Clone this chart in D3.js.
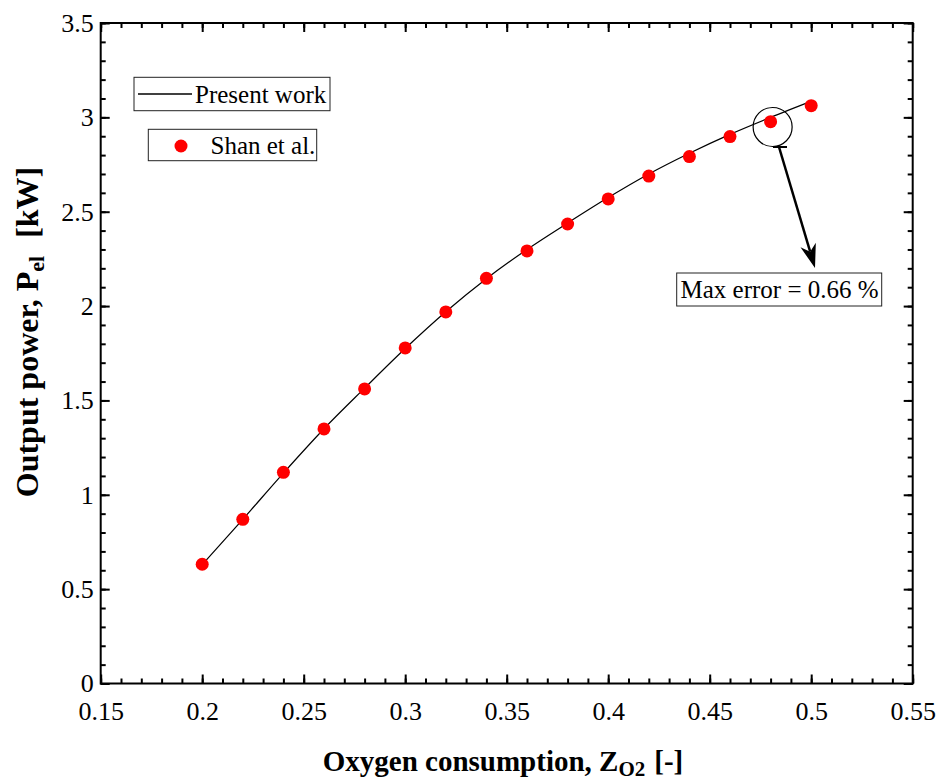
<!DOCTYPE html>
<html>
<head>
<meta charset="utf-8">
<script src="https://cdn.jsdelivr.net/npm/d3@7"></script>
<style>
  body { margin: 0; background: #fff; }
</style>
</head>
<body>
<svg width="938" height="780"></svg>
<script>
  // 데이터
  const zO2 = [0.20, 0.22, 0.24, 0.26, 0.28, 0.30, 0.32, 0.34, 0.36, 0.38, 0.40, 0.42, 0.44, 0.46, 0.48, 0.50];
  const presentWork = [0.63, 0.87, 1.115, 1.35, 1.565, 1.775, 1.97, 2.145, 2.30, 2.44, 2.575, 2.70, 2.81, 2.91, 3.00, 3.085];
  const shanEtAl = [0.632, 0.870, 1.119, 1.349, 1.561, 1.778, 1.969, 2.147, 2.292, 2.435, 2.568, 2.689, 2.792, 2.898, 2.977, 3.062];
  const xTicks = [0.15, 0.2, 0.25, 0.3, 0.35, 0.4, 0.45, 0.5, 0.55];
  const yTicks = [0, 0.5, 1, 1.5, 2, 2.5, 3, 3.5];

  const FONT = '"Liberation Serif", "Times New Roman", Times, serif';
  const svg = d3.select("svg").style("font-family", FONT);
  const pLeft = 100.7, pRight = 912.7, pTop = 23, pBottom = 683.5;

  const x = d3.scaleLinear().domain([0.15, 0.55]).range([pLeft, pRight]);
  const y = d3.scaleLinear().domain([0, 3.5]).range([pBottom, pTop]);

  const xMinor = d3.range(15, 56).map(d => d / 100);
  const yMinor = d3.range(0, 36).map(d => d / 10);

  // 축 그리기 (안쪽 눈금)
  function styleAxis(g, labels) {
    g.attr("font-family", null).attr("font-size", null);
    g.select(".domain").remove();
    g.selectAll("line").attr("stroke", "#000").attr("stroke-width", 2);
    if (labels) {
      g.selectAll("text").attr("fill", "#000")
        .style("font-family", FONT).style("font-size", "26px");
    } else {
      g.selectAll("text").remove();
    }
  }
  const fmt = d => String(d);

  svg.append("g").attr("transform", `translate(0,${pBottom})`)
    .call(d3.axisBottom(x).tickValues(xMinor).tickSize(-5).tickFormat(""))
    .call(g => styleAxis(g, false));
  svg.append("g").attr("transform", `translate(0,${pBottom})`)
    .call(d3.axisBottom(x).tickValues(xTicks).tickSize(-9).tickPadding(18).tickFormat(fmt))
    .call(g => styleAxis(g, true));
  svg.append("g").attr("transform", `translate(0,${pTop})`)
    .call(d3.axisTop(x).tickValues(xMinor).tickSize(-5).tickFormat(""))
    .call(g => styleAxis(g, false));
  svg.append("g").attr("transform", `translate(0,${pTop})`)
    .call(d3.axisTop(x).tickValues(xTicks).tickSize(-9).tickFormat(""))
    .call(g => styleAxis(g, false));

  svg.append("g").attr("transform", `translate(${pLeft},0)`)
    .call(d3.axisLeft(y).tickValues(yMinor).tickSize(-5).tickFormat(""))
    .call(g => styleAxis(g, false));
  svg.append("g").attr("transform", `translate(${pLeft},0)`)
    .call(d3.axisLeft(y).tickValues(yTicks).tickSize(-9).tickPadding(7).tickFormat(fmt))
    .call(g => styleAxis(g, true));
  svg.append("g").attr("transform", `translate(${pRight},0)`)
    .call(d3.axisRight(y).tickValues(yMinor).tickSize(-5).tickFormat(""))
    .call(g => styleAxis(g, false));
  svg.append("g").attr("transform", `translate(${pRight},0)`)
    .call(d3.axisRight(y).tickValues(yTicks).tickSize(-9).tickFormat(""))
    .call(g => styleAxis(g, false));

  // 테두리
  svg.append("rect")
    .attr("x", pLeft).attr("y", pTop)
    .attr("width", pRight - pLeft).attr("height", pBottom - pTop)
    .attr("fill", "none").attr("stroke", "#000").attr("stroke-width", 2);

  // Present work 선
  const line = d3.line()
    .x((d, i) => x(zO2[i]))
    .y(d => y(d))
    .curve(d3.curveMonotoneX);
  svg.append("path")
    .datum(presentWork)
    .attr("d", line)
    .attr("fill", "none")
    .attr("stroke", "#000")
    .attr("stroke-width", 1.2);

  // Shan et al. 점
  svg.selectAll("circle.pt")
    .data(shanEtAl)
    .enter()
    .append("circle")
    .attr("class", "pt")
    .attr("cx", (d, i) => x(zO2[i]))
    .attr("cy", d => y(d))
    .attr("r", 6.5)
    .attr("fill", "#ff0000");

  // 범례
  svg.append("rect").attr("x", 134).attr("y", 77.3).attr("width", 196).attr("height", 33.4)
    .attr("fill", "#fff").attr("stroke", "#222").attr("stroke-width", 1);
  svg.append("line").attr("x1", 138).attr("x2", 192).attr("y1", 94).attr("y2", 94)
    .attr("stroke", "#000").attr("stroke-width", 1.5);
  svg.append("text").attr("x", 195).attr("y", 102.5)
    .style("font-family", FONT).style("font-size", "25px").text("Present work");

  svg.append("rect").attr("x", 148.3).attr("y", 129.3).attr("width", 168.4).attr("height", 31.4)
    .attr("fill", "#fff").attr("stroke", "#222").attr("stroke-width", 1);
  svg.append("circle").attr("cx", 181).attr("cy", 146).attr("r", 6.5).attr("fill", "#ff0000");
  svg.append("text").attr("x", 210.5).attr("y", 154)
    .style("font-family", FONT).style("font-size", "25px").text("Shan et al.");

  // 최대 오차 표시
  const cx0 = x(0.481), cy0 = y(2.949);
  svg.append("circle").attr("cx", cx0).attr("cy", cy0).attr("r", 19.5)
    .attr("fill", "none").attr("stroke", "#000").attr("stroke-width", 1.2);
  svg.append("line").attr("x1", 773).attr("x2", 787).attr("y1", 147).attr("y2", 147)
    .attr("stroke", "#000").attr("stroke-width", 2);

  const p0 = [779, 147], p1 = [815, 268];
  const len = Math.hypot(p1[0] - p0[0], p1[1] - p0[1]);
  const ux = (p1[0] - p0[0]) / len, uy = (p1[1] - p0[1]) / len;
  const px = -uy, py = ux;
  const headLen = 24, headW = 8, notch = 17;
  svg.append("line")
    .attr("x1", p0[0]).attr("y1", p0[1])
    .attr("x2", p1[0] - ux * notch).attr("y2", p1[1] - uy * notch)
    .attr("stroke", "#000").attr("stroke-width", 2.5);
  const bx = p1[0] - ux * headLen, by = p1[1] - uy * headLen;
  svg.append("path")
    .attr("d", `M${p1[0]},${p1[1]} L${bx + px * headW},${by + py * headW} L${p1[0] - ux * notch},${p1[1] - uy * notch} L${bx - px * headW},${by - py * headW} Z`)
    .attr("fill", "#000");

  svg.append("rect").attr("x", 676.7).attr("y", 273).attr("width", 205).attr("height", 33)
    .attr("fill", "#fff").attr("stroke", "#222").attr("stroke-width", 1);
  svg.append("text").attr("x", 680.5).attr("y", 298)
    .style("font-family", FONT).style("font-size", "25px").text("Max error = 0.66 %");

  // 축 제목
  const xt = svg.append("text")
    .attr("x", 503).attr("y", 771)
    .attr("text-anchor", "middle")
    .style("font-family", FONT).style("font-size", "29px").style("font-weight", "bold");
  xt.append("tspan").text("Oxygen consumption, Z");
  xt.append("tspan").attr("dy", 5).style("font-size", "21px").text("O2");
  xt.append("tspan").attr("dy", -5).attr("dx", 9).text("[-]");

  const yt = svg.append("text")
    .attr("transform", "translate(38,332) rotate(-90)")
    .attr("text-anchor", "middle")
    .style("font-family", FONT).style("font-size", "32px").style("font-weight", "bold");
  yt.append("tspan").text("Output power, P");
  yt.append("tspan").attr("dy", 6).style("font-size", "22px").text("el");
  yt.append("tspan").attr("dy", -6).attr("dx", 18).text("[kW]");
</script>
</body>
</html>
